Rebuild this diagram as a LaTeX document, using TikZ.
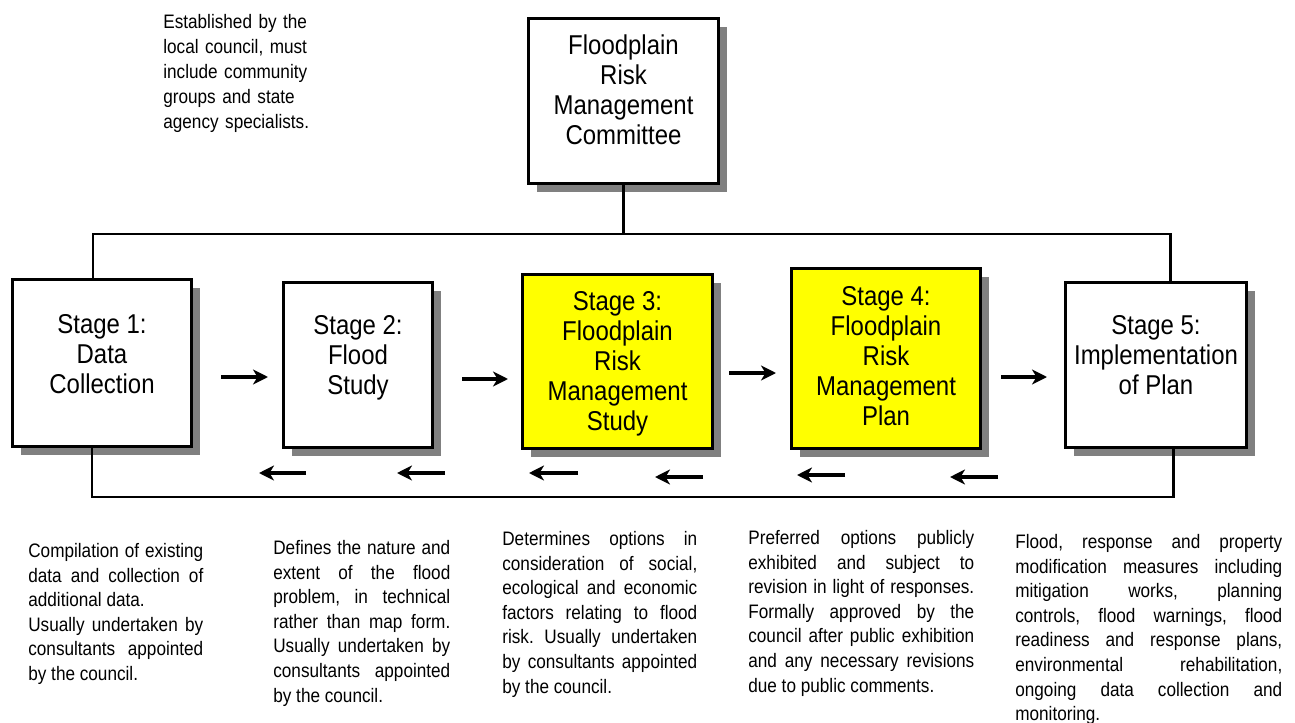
\documentclass[tikz,border=0pt]{standalone}
\usepackage{fontspec}
\setmainfont{Liberation Sans}[FakeStretch=0.88]
\usetikzlibrary{arrows.meta,shadows}
\definecolor{stageyellow}{RGB}{255,255,0}
\definecolor{shadowgray}{RGB}{128,128,128}
\hbadness=10000
\frenchspacing

\tikzset{
  stagebox/.style={draw, line width=1.9pt, fill=white,
    drop shadow={shadow xshift=0.17cm, shadow yshift=-0.17cm, opacity=1, fill=shadowgray}},
  planbox/.style={stagebox, fill=stageyellow},
  boxtext/.style={align=center, inner sep=0pt, font=\fontsize{15.5}{17.1}\selectfont},
  notetext/.style={align=justify, anchor=north west, inner sep=0pt, font=\fontsize{11.1}{14}\selectfont},
  link/.style={line width=1.7pt},
  flow/.style={line width=2pt, -{Stealth[length=0.3cm, width=0.3cm, inset=0.09cm]}}
}

\begin{document}
\begin{tikzpicture}[x=0.02cm, y=-0.02cm]
    \useasboundingbox (0,0) rectangle (1295,723);

    % committee and the five stages
    \node[stagebox, minimum width=3.79cm, minimum height=3.29cm] (com) at (623.5,101) {};
    \node[stagebox, minimum width=3.57cm, minimum height=3.33cm] (s1) at (102,363) {};
    \node[stagebox, minimum width=2.97cm, minimum height=3.29cm] (s2) at (358,365) {};
    \node[planbox, minimum width=3.79cm, minimum height=3.47cm] (s3) at (617.5,361.5) {};
    \node[planbox, minimum width=3.77cm, minimum height=3.59cm] (s4) at (886,358.5) {};
    \node[stagebox, minimum width=3.61cm, minimum height=3.29cm] (s5) at (1156,365) {};

    \node[boxtext] (comtxt) at (623.5,90) {Floodplain\\Risk\\Management\\Committee};
    \node[boxtext] (s1txt) at (102,354) {Stage 1:\\Data\\Collection};
    \node[boxtext] (s2txt) at (358,358) {Stage 2:\\Flood\\Study};
    \node[boxtext] (s3txt) at (617.5,364) {Stage 3:\\Floodplain\\Risk\\Management\\Study};
    \node[boxtext] (s4txt) at (886,356) {Stage 4:\\Floodplain\\Risk\\Management\\Plan};
    \node[boxtext] (s5txt) at (1156,355) {Stage 5:\\Implementation\\of Plan};

    % lines to the committee and the loop back
    \coordinate (tl) at (93,234);
    \coordinate (tr) at (1170,234);
    \coordinate (bl) at (92,497);
    \coordinate (br) at (1173,497);
    \draw[link] (com.south) -- (com.south |- tl);
    \draw[link] (s1.north -| tl) -- (tl) -- (tr) -- (s5.north -| tr);
    \draw[link] (s1.south -| bl) -- (bl) -- (br) -- (s5.south -| br);

    % forward arrows
    \foreach \n/\xa/\xb/\ya in {1/221/268/377, 2/462/508/379, 3/729/776/373, 4/1001/1047/377}{
        \coordinate (fa\n) at (\xa,\ya);
        \coordinate (fb\n) at (\xb,\ya);
        \draw[flow] (fa\n) -- (fb\n);
    }
    % backward arrows
    \foreach \n/\xa/\xb/\ya in {1/306/259/473, 2/445/397/473, 3/578/529/473, 4/703/655/477, 5/845/797/475, 6/998/950/477}{
        \coordinate (ba\n) at (\xa,\ya);
        \coordinate (bb\n) at (\xb,\ya);
        \draw[flow] (ba\n) -- (bb\n);
    }

    % notes
    \node[notetext, align=left, text width=3.3cm, font=\fontsize{11.1}{14.2}\selectfont] (note0) at (163,14)
        {Established by the\\local council, must\\include community\\groups and state\\agency specialists.};
    \node[notetext, text width=3.5cm] (note1) at (28,543)
        {Compilation of existing\linebreak data and collection of\linebreak additional data.\newline
         Usually undertaken by\linebreak consultants appointed\linebreak by the council.};
    \node[notetext, text width=3.54cm] (note2) at (273,540)
        {Defines the nature and\linebreak extent of the flood\linebreak problem, in technical\linebreak
         rather than map form.\linebreak Usually undertaken by\linebreak consultants appointed\linebreak by the council.};
    \node[notetext, text width=3.9cm] (note3) at (502,531)
        {Determines options in\linebreak consideration of social,\linebreak ecological and economic\linebreak
         factors relating to flood\linebreak risk. Usually undertaken\linebreak by consultants appointed\linebreak by the council.};
    \node[notetext, text width=4.52cm] (note4) at (748,530)
        {Preferred options publicly\linebreak exhibited and subject to\linebreak revision in light of responses.\linebreak
         Formally approved by the\linebreak council after public exhibition\linebreak and any necessary revisions\linebreak due to public comments.};
    \node[notetext, text width=5.34cm] (note5) at (1015,534)
        {Flood, response and property\linebreak modification measures including\linebreak mitigation works, planning\linebreak
         controls, flood warnings, flood\linebreak readiness and response plans,\linebreak environmental rehabilitation,\linebreak
         ongoing data collection and\linebreak monitoring.};
\end{tikzpicture}
\end{document}
